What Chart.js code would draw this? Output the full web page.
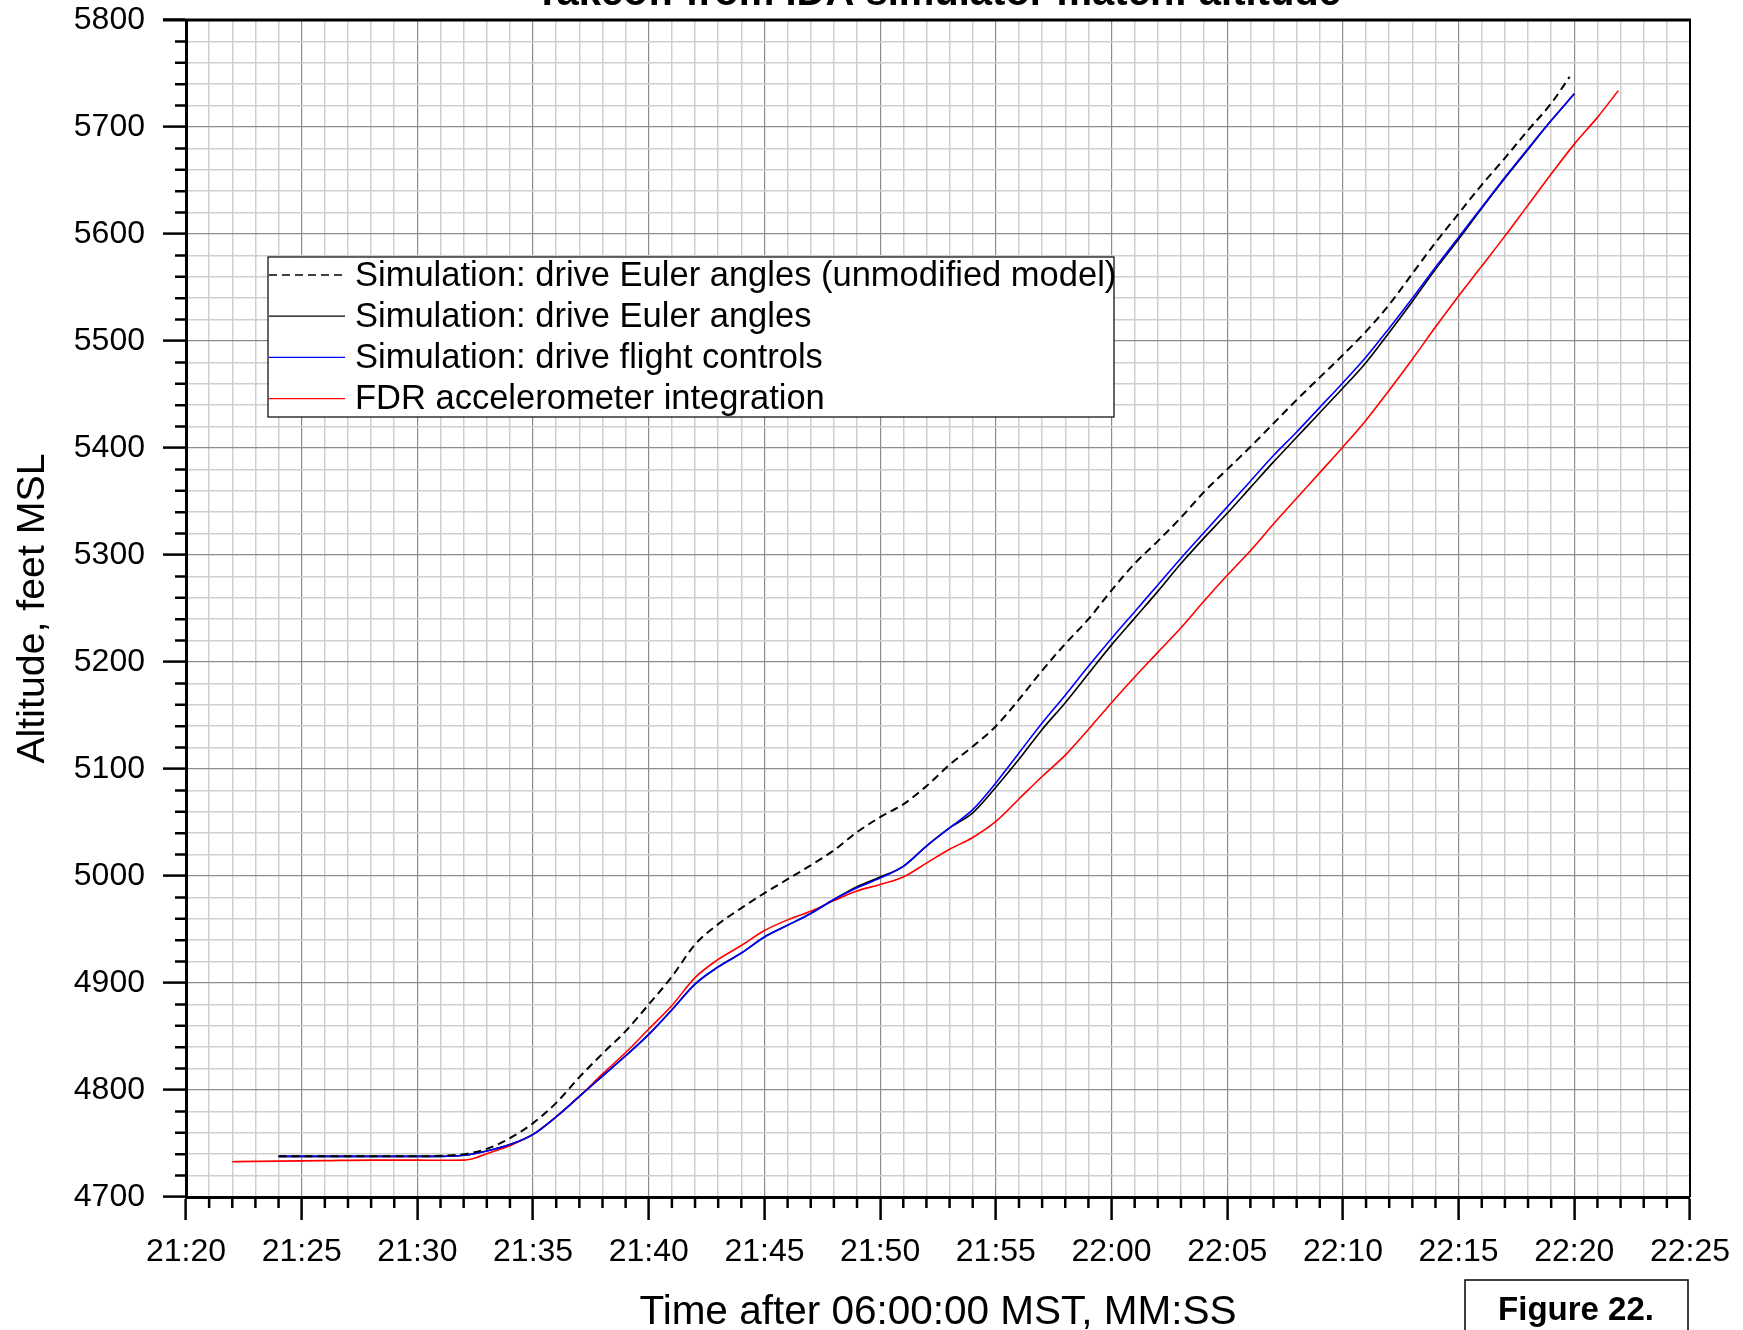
<!DOCTYPE html>
<html>
<head>
<meta charset="utf-8">
<script src="https://cdn.jsdelivr.net/npm/chart.js@4.4.0/dist/chart.umd.min.js"></script>
<style>
  html, body { margin: 0; padding: 0; background: #fff; }
  #wrap { width: 1743px; height: 1330px; }
</style>
</head>
<body>
<div id="wrap"><canvas id="alt-chart" width="1743" height="1330"></canvas></div>
<script>
// Time is seconds after 06:00:00 MST, shown as MM:SS
const unmodTime = [1284, 1286, 1288, 1290, 1291, 1292, 1293, 1294, 1295, 1296, 1297, 1298, 1299, 1300,
    1301, 1302, 1303, 1304, 1305, 1306, 1307, 1308, 1309, 1310, 1311, 1312, 1313, 1314, 1315, 1316,
    1317, 1318, 1319, 1320, 1321, 1322, 1323, 1324, 1325, 1326, 1327, 1328, 1329, 1330, 1331, 1332,
    1333, 1334, 1335, 1336, 1337, 1338, 1339, 1339.8];
const unmodAlt = [4738, 4738, 4738, 4738, 4738.5, 4740, 4745, 4755, 4769, 4788, 4812, 4834, 4855, 4880,
    4906, 4936, 4955, 4970, 4984, 4997, 5010, 5024, 5041, 5055, 5067, 5084, 5104, 5121, 5140, 5165,
    5192, 5217, 5240, 5267, 5292, 5313, 5335, 5359, 5380, 5401, 5423, 5445, 5466, 5487, 5509, 5534,
    5563, 5592, 5619, 5646, 5671, 5697, 5722, 5747];

const eulerTime = [1284, 1286, 1288, 1290, 1291, 1292, 1293, 1294, 1295, 1296, 1297, 1298, 1299, 1300,
    1301, 1302, 1303, 1304, 1305, 1306, 1307, 1308, 1309, 1310, 1311, 1312, 1313, 1314, 1315, 1316,
    1317, 1318, 1319, 1320, 1321, 1322, 1323, 1324, 1325, 1326, 1327, 1328, 1329, 1330, 1331, 1332,
    1333, 1334, 1335, 1336, 1337, 1338, 1339, 1340];
const eulerAlt = [4738, 4738, 4738, 4738, 4738, 4739, 4743, 4749, 4758.5, 4775, 4794, 4813, 4832, 4852,
    4875, 4899, 4915, 4928, 4943, 4954, 4965, 4978, 4990, 4999, 5009, 5028, 5045, 5059, 5083, 5109,
    5137, 5162, 5189, 5216, 5241, 5266, 5292, 5316, 5339, 5363, 5387, 5410, 5433, 5456, 5480, 5508,
    5537, 5567, 5595, 5624, 5652, 5679, 5706, 5731];

const controlsTime = [1284, 1286, 1288, 1290, 1291, 1292, 1293, 1294, 1295, 1296, 1297, 1298, 1299, 1300,
    1301, 1302, 1303, 1304, 1305, 1306, 1307, 1308, 1309, 1310, 1311, 1312, 1313, 1314, 1315, 1316,
    1317, 1318, 1319, 1320, 1321, 1322, 1323, 1324, 1325, 1326, 1327, 1328, 1329, 1330, 1331, 1332,
    1333, 1334, 1335, 1336, 1337, 1338, 1339, 1340];
const controlsAlt = [4738, 4738, 4738, 4738, 4738, 4739, 4743, 4749, 4758.5, 4775, 4794, 4813, 4832, 4852,
    4875, 4899, 4915, 4928, 4943, 4954, 4965, 4978, 4989, 4998, 5009, 5028, 5045, 5062, 5087, 5115,
    5143, 5169, 5196, 5222, 5247, 5272, 5297, 5321, 5345, 5369, 5393, 5415, 5438, 5461, 5485, 5512,
    5540, 5569, 5597, 5625, 5653, 5680, 5706, 5731];

const fdrTime = [1282, 1284, 1286, 1288, 1290, 1291, 1292, 1292.5, 1293, 1294, 1295, 1296, 1297, 1298,
    1299, 1300, 1301, 1302, 1303, 1304, 1305, 1306, 1307, 1308, 1309, 1310, 1311, 1312, 1313, 1314,
    1315, 1316, 1317, 1318, 1319, 1320, 1321, 1322, 1323, 1324, 1325, 1326, 1327, 1328, 1329, 1330,
    1331, 1332, 1333, 1334, 1335, 1336, 1337, 1338, 1339, 1340, 1341, 1341.9];
const fdrAlt = [4733, 4733.5, 4734, 4734.5, 4734.5, 4734.3, 4734.5, 4736.5, 4740.5, 4748, 4758.5, 4775, 4794, 4815,
    4835, 4857, 4879, 4905, 4922, 4935, 4949, 4959, 4967, 4977, 4986, 4992, 4999, 5012, 5025, 5036,
    5051, 5072, 5093, 5113, 5137, 5162, 5186, 5209, 5232, 5257, 5281, 5304, 5329, 5353, 5377, 5401,
    5426, 5454, 5483, 5513, 5542, 5570, 5598, 5627, 5656, 5684, 5709, 5734];

const seriesLabels = [
    'Simulation: drive Euler angles (unmodified model)',
    'Simulation: drive Euler angles',
    'Simulation: drive flight controls',
    'FDR accelerometer integration'
];

const chartTitle = 'Takeoff from IDA simulator match: altitude';
const xTitle = 'Time after 06:00:00 MST, MM:SS';
const yTitle = 'Altitude, feet MSL';
const figureLabel = 'Figure 22.';

const FONT = "'Liberation Sans', Arial, Helvetica, sans-serif";
Chart.defaults.font.family = FONT;
Chart.defaults.color = '#000';

function points(times, values) {
    return times.map((t, i) => ({ x: t, y: values[i] }));
}

function mmss(value) {
    const m = Math.floor(value / 60);
    const s = value - m * 60;
    return m + ':' + String(s).padStart(2, '0');
}

// grid colours: major lines every 5 s / 100 ft, light minor lines in between
function gridColor(isMajor) { return isMajor ? '#8c8c8c' : '#cfcfcf'; }

// background, minor ticks, frame, legend, title and figure tag
const paperPlugin = {
    id: 'paper',
    beforeDraw(chart) {
        const ctx = chart.ctx;
        ctx.save();
        ctx.fillStyle = '#fff';
        ctx.fillRect(0, 0, chart.width, chart.height);
        ctx.restore();
    },
    afterDraw(chart) {
        const { ctx, chartArea: a, scales: { x, y } } = chart;
        ctx.save();

        // minor tick marks (short)
        ctx.strokeStyle = '#000';
        ctx.lineWidth = 2.5;
        ctx.beginPath();
        x.ticks.forEach(t => {
            if (t.value % 5 !== 0) {
                const px = x.getPixelForValue(t.value);
                ctx.moveTo(px, a.bottom);
                ctx.lineTo(px, a.bottom + 11);
            }
        });
        y.ticks.forEach(t => {
            if (t.value % 100 !== 0) {
                const py = y.getPixelForValue(t.value);
                ctx.moveTo(a.left - 11, py);
                ctx.lineTo(a.left, py);
            }
        });
        ctx.stroke();

        // top and right frame
        ctx.beginPath();
        ctx.lineWidth = 3;
        ctx.moveTo(a.left - 23, a.top);
        ctx.lineTo(a.right + 1, a.top);
        ctx.stroke();
        ctx.beginPath();
        ctx.lineWidth = 2;
        ctx.moveTo(a.right, a.top);
        ctx.lineTo(a.right, a.bottom);
        ctx.stroke();

        // legend box
        const lx = 268, ly = 257, lw = 846, lh = 160;
        ctx.fillStyle = '#fff';
        ctx.fillRect(lx, ly, lw, lh);
        ctx.lineWidth = 1.2;
        ctx.strokeStyle = '#000';
        ctx.strokeRect(lx, ly, lw, lh);
        ctx.font = '34.5px ' + FONT;
        ctx.textBaseline = 'middle';
        ctx.textAlign = 'left';
        chart.data.datasets.forEach((ds, i) => {
            const rowY = 275 + i * 41.2;
            ctx.beginPath();
            ctx.strokeStyle = ds.borderColor;
            ctx.lineWidth = 1.3;
            ctx.setLineDash(ds.borderDash || []);
            ctx.moveTo(lx + 1, rowY);
            ctx.lineTo(345, rowY);
            ctx.stroke();
            ctx.setLineDash([]);
            ctx.fillStyle = '#000';
            ctx.fillText(ds.label, 355, rowY + 1);
        });

        // title, mostly cut off at the top edge
        ctx.fillStyle = '#000';
        ctx.font = 'bold 40px ' + FONT;
        ctx.textAlign = 'center';
        ctx.textBaseline = 'alphabetic';
        ctx.fillText(chartTitle, (a.left + a.right) / 2, 5);

        // figure tag
        ctx.strokeStyle = '#000';
        ctx.lineWidth = 1.5;
        ctx.strokeRect(1465, 1280, 223, 70);
        ctx.font = 'bold 33px ' + FONT;
        ctx.fillText(figureLabel, 1576, 1320);

        ctx.restore();
    }
};

const ctx = document.getElementById('alt-chart');

new Chart(ctx, {
    type: 'line',
    data: {
        datasets: [
            {
                label: seriesLabels[0],
                data: points(unmodTime, unmodAlt),
                borderColor: '#000000',
                borderWidth: 2,
                borderDash: [8, 5],
                order: 0
            },
            {
                label: seriesLabels[1],
                data: points(eulerTime, eulerAlt),
                borderColor: '#000000',
                borderWidth: 1.6,
                order: 2
            },
            {
                label: seriesLabels[2],
                data: points(controlsTime, controlsAlt),
                borderColor: '#0000ff',
                borderWidth: 1.6,
                order: 1
            },
            {
                label: seriesLabels[3],
                data: points(fdrTime, fdrAlt),
                borderColor: '#ff0000',
                borderWidth: 1.6,
                order: 3
            }
        ]
    },
    options: {
        responsive: false,
        animation: false,
        devicePixelRatio: 1,
        layout: {
            padding: { top: 20, right: 53, left: 0, bottom: 0 }
        },
        elements: {
            point: { radius: 0 },
            line: { cubicInterpolationMode: 'monotone', fill: false }
        },
        plugins: {
            legend: { display: false },
            tooltip: { enabled: false },
            title: { display: false }
        },
        scales: {
            x: {
                type: 'linear',
                min: 1280,
                max: 1345,
                afterFit: s => { s.height = 133; s.paddingLeft = 0; s.paddingRight = 0; },
                border: { display: true, color: '#000', width: 3 },
                grid: {
                    color: c => gridColor(c.tick && c.tick.value % 5 === 0),
                    lineWidth: c => (c.tick && c.tick.value % 5 === 0) ? 1.2 : 1.5,
                    tickColor: c => (c.tick && c.tick.value % 5 === 0) ? '#000' : 'rgba(0,0,0,0)',
                    tickWidth: 2.5,
                    tickLength: 23,
                    drawTicks: true
                },
                ticks: {
                    stepSize: 1,
                    autoSkip: false,
                    maxRotation: 0,
                    padding: 13,
                    font: { size: 32 },
                    callback: v => (v % 5 === 0 ? mmss(v) : '')
                },
                title: {
                    display: true,
                    text: xTitle,
                    font: { size: 40.5 },
                    padding: { top: 0, bottom: -7 }
                }
            },
            y: {
                type: 'linear',
                min: 4700,
                max: 5800,
                afterFit: s => { s.width = 186; s.paddingTop = 0; s.paddingBottom = 0; },
                border: { display: true, color: '#000', width: 3 },
                grid: {
                    color: c => gridColor(c.tick && c.tick.value % 100 === 0),
                    lineWidth: c => (c.tick && c.tick.value % 100 === 0) ? 1.2 : 1.5,
                    tickColor: c => (c.tick && c.tick.value % 100 === 0) ? '#000' : 'rgba(0,0,0,0)',
                    tickWidth: 2.5,
                    tickLength: 23,
                    drawTicks: true
                },
                ticks: {
                    stepSize: 20,
                    autoSkip: false,
                    padding: 18,
                    font: { size: 32 },
                    callback: v => (v % 100 === 0 ? String(v) : '')
                },
                title: {
                    display: true,
                    text: yTitle,
                    font: { size: 39.3 },
                    padding: { top: 10, bottom: 0 }
                }
            }
        }
    },
    plugins: [paperPlugin]
});
</script>
</body>
</html>
